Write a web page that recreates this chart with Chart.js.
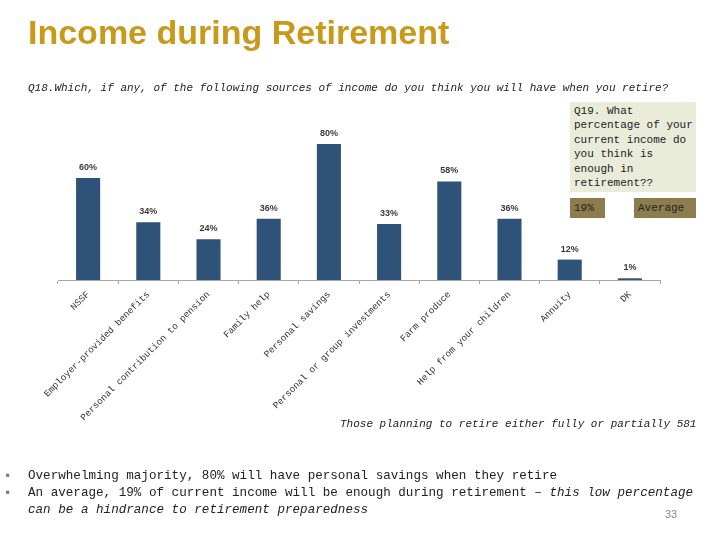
<!DOCTYPE html>
<html>
<head>
<meta charset="utf-8">
<script src="https://cdn.jsdelivr.net/npm/chart.js@4/dist/chart.umd.min.js"></script>
<style>
  body { margin: 0; background: #fff; }
  #wrap { position: relative; width: 720px; height: 540px; overflow: hidden; }
  #chart { position: absolute; left: 0; top: 0; }
  .t { position: absolute; white-space: nowrap; }
  .mono { font-family: "Liberation Mono", "DejaVu Sans Mono", monospace; }
</style>
</head>
<body>
<div id="wrap">
  <canvas id="chart" width="720" height="540"></canvas>
  <div class="t" style="left:28px; top:13px; font:bold 34px 'Liberation Sans', Arial, sans-serif; color:#c8991a;">Income during Retirement</div>
  <div class="t mono" style="left:28px; top:82px; font-size:11px; font-style:italic; color:#222;">Q18.Which, if any, of the following sources of income do you think you will have when you retire?</div>
  <div class="t mono" style="left:570px; top:102px; width:122px; height:86px; padding:2px 0 2px 4px; background:#e8ecd9; font-size:11px; line-height:14.4px; color:#222;">Q19. What<br>percentage of your<br>current income do<br>you think is<br>enough in<br>retirement??</div>
  <div class="t mono" style="left:570px; top:198px; width:31px; height:20px; padding-left:4px; background:#8c7c4e; font-size:11px; line-height:20px; color:#222;">19%</div>
  <div class="t mono" style="left:634px; top:198px; width:58px; height:20px; padding-left:4px; background:#8c7c4e; font-size:11px; line-height:20px; color:#222;">Average</div>
  <div class="t mono" style="left:340px; top:418px; font-size:11px; font-style:italic; color:#222;">Those planning to retire either fully or partially 581</div>
  <div class="t mono" style="left:4px; top:468px; font-size:12.6px; line-height:17px; color:#222;">
    <div><span style="color:#777; display:inline-block; width:24px;">&#9642;</span>Overwhelming majority, 80% will have personal savings when they retire</div>
    <div><span style="color:#777; display:inline-block; width:24px;">&#9642;</span>An average, 19% of current income will be enough during retirement &ndash; <i>this low percentage</i></div>
    <div style="padding-left:24px;"><i>can be a hindrance to retirement preparedness</i></div>
  </div>
  <div class="t" style="left:665px; top:508px; font:11px 'Liberation Sans', sans-serif; color:#888;">33</div>
</div>
<script>
const categories = [
  'NSSF',
  'Employer-provided benefits',
  'Personal contribution to pension',
  'Family help',
  'Personal savings',
  'Personal or group investments',
  'Farm produce',
  'Help from your children',
  'Annuity',
  'DK'
];
const shares = [60, 34, 24, 36, 80, 33, 58, 36, 12, 1];

// labels above the bars
const valueLabels = {
  id: 'valueLabels',
  afterDatasetsDraw(chart) {
    const ctx = chart.ctx;
    const meta = chart.getDatasetMeta(0);
    ctx.save();
    ctx.font = 'bold 9px "Liberation Sans", Arial, sans-serif';
    ctx.fillStyle = '#3a3a3a';
    ctx.textAlign = 'center';
    ctx.textBaseline = 'bottom';
    meta.data.forEach((bar, i) => {
      ctx.fillText(shares[i] + '%', bar.x, bar.y - 6);
    });
    ctx.restore();
  }
};

new Chart(document.getElementById('chart'), {
  type: 'bar',
  data: {
    labels: categories,
    datasets: [{
      data: shares,
      backgroundColor: '#2f5279',
      categoryPercentage: 1,
      barPercentage: 0.4
    }]
  },
  options: {
    responsive: false,
    animation: false,
    layout: { padding: { left: 58, right: 60, top: 110, bottom: 120 } },
    plugins: { legend: { display: false }, tooltip: { enabled: false } },
    scales: {
      y: { display: false, min: 0, max: 100 },
      x: {
        afterFit: (s) => { s.height = 140; },
        border: { display: true, color: '#a6a6a6' },
        grid: { drawOnChartArea: false, drawTicks: true, tickLength: 4, color: '#a6a6a6', offset: true },
        ticks: {
          autoSkip: false,
          maxRotation: 45,
          minRotation: 45,
          padding: 5,
          color: '#333',
          font: { family: '"Liberation Mono", monospace', size: 9.3 }
        }
      }
    }
  },
  plugins: [valueLabels]
});
</script>
</body>
</html>
